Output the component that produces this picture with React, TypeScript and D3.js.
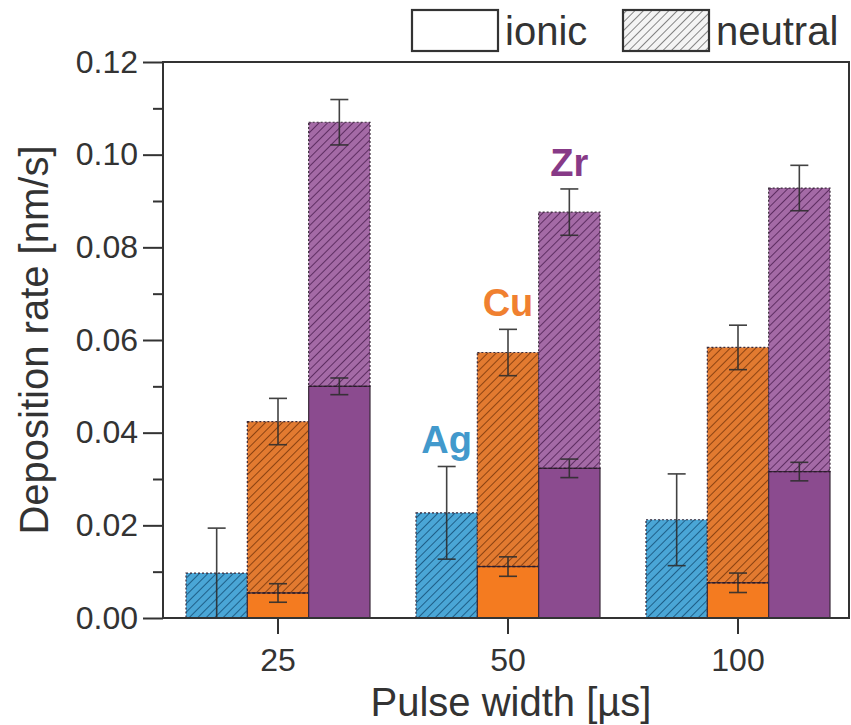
import React, { Component } from "react";
import * as d3 from "d3";

// pulse widths (x categories) and targets (sub-bars)
const pulseWidths = ["25", "50", "100"];
const elements = ["Ag", "Cu", "Zr"];

// deposition rate [nm/s], one value per pulse width
const totalRate = {
  Ag: [0.0097, 0.0227, 0.0212],
  Cu: [0.0424, 0.0573, 0.0584],
  Zr: [0.107, 0.0876, 0.0928],
};
const totalErr = {
  Ag: [0.0097, 0.01, 0.0099],
  Cu: [0.005, 0.005, 0.0048],
  Zr: [0.0049, 0.005, 0.0049],
};
const ionicRate = {
  Ag: [0, 0, 0],
  Cu: [0.0054, 0.0111, 0.0076],
  Zr: [0.05, 0.0323, 0.0316],
};
const ionicErr = {
  Ag: [0, 0, 0],
  Cu: [0.002, 0.0021, 0.0021],
  Zr: [0.0018, 0.002, 0.002],
};

const yMajorTicks = [0, 0.02, 0.04, 0.06, 0.08, 0.1, 0.12];
const yMinorTicks = [0.01, 0.03, 0.05, 0.07, 0.09, 0.11];
const legendItems = ["ionic", "neutral"];

const solidColor = { Ag: "#3d9dd0", Cu: "#f47b20", Zr: "#8b4b8f" };
const hatchBg = { Ag: "#4aa6d6", Cu: "#e27a30", Zr: "#a46aa6" };
const hatchLine = { Ag: "#1f5f88", Cu: "#8c4312", Zr: "#5e2e62" };
const labelColor = { Ag: "#4299cc", Cu: "#f08030", Zr: "#873a87" };

const FONT = "'Liberation Sans', Arial, Helvetica, sans-serif";

class App extends Component {
  constructor(props) {
    super(props);
    this.svgRef = React.createRef();
  }

  drawChart = () => {
    const svg = d3.select(this.svgRef.current);
    svg.selectAll("*").remove();

    const dims = {
      width: 851,
      height: 725,
      margin: { top: 62, right: 2, bottom: 107, left: 163 },
    };
    const plotBottom = dims.height - dims.margin.bottom; // 618
    const plotRight = dims.width - dims.margin.right; // 849

    const defs = svg.append("defs");
    elements.forEach((el) => {
      const p = defs
        .append("pattern")
        .attr("id", "hatch-" + el)
        .attr("patternUnits", "userSpaceOnUse")
        .attr("width", 6)
        .attr("height", 6)
        .attr("patternTransform", "rotate(45)");
      p.append("rect").attr("width", 6).attr("height", 6).attr("fill", hatchBg[el]);
      p.append("line")
        .attr("x1", 0).attr("y1", 0).attr("x2", 0).attr("y2", 6)
        .attr("stroke", hatchLine[el])
        .attr("stroke-width", 2);
    });
    const lp = defs
      .append("pattern")
      .attr("id", "hatch-legend")
      .attr("patternUnits", "userSpaceOnUse")
      .attr("width", 6)
      .attr("height", 6)
      .attr("patternTransform", "rotate(45)");
    lp.append("rect").attr("width", 6).attr("height", 6).attr("fill", "#f4f4f4");
    lp.append("line")
      .attr("x1", 0).attr("y1", 0).attr("x2", 0).attr("y2", 6)
      .attr("stroke", "#555")
      .attr("stroke-width", 1.4);

    /** scales */
    const xScale = d3
      .scaleBand()
      .domain(pulseWidths)
      .range([dims.margin.left, dims.margin.left + 690])
      .paddingInner(0.2)
      .paddingOuter(0.1);
    const subScale = d3.scaleBand().domain(elements).range([0, xScale.bandwidth()]);
    const yScale = d3.scaleLinear().domain([0, 0.12]).range([plotBottom, dims.margin.top]);

    /** bars */
    const barsGroup = svg.append("g").attr("class", "bars");
    const errGroup = svg.append("g").attr("class", "errors");
    const drawErr = (cx, v, e) => {
      if (e <= 0) return;
      const lo = Math.max(0, v - e);
      const hi = v + e;
      const g = errGroup.append("g").attr("stroke", "#2e2e2e").attr("stroke-width", 1.6).attr("opacity", 0.9);
      g.append("line").attr("x1", cx).attr("x2", cx).attr("y1", yScale(lo)).attr("y2", yScale(hi));
      g.append("line").attr("x1", cx - 9).attr("x2", cx + 9).attr("y1", yScale(hi)).attr("y2", yScale(hi));
      g.append("line").attr("x1", cx - 9).attr("x2", cx + 9).attr("y1", yScale(lo)).attr("y2", yScale(lo));
    };

    pulseWidths.forEach((pw, i) => {
      elements.forEach((el) => {
        const x0 = xScale(pw) + subScale(el);
        const w = subScale.bandwidth();
        const cx = x0 + w / 2;
        const ion = ionicRate[el][i];
        const tot = totalRate[el][i];

        // neutral (hatched) part on top of ionic
        barsGroup
          .append("rect")
          .attr("x", x0)
          .attr("width", w)
          .attr("y", yScale(tot))
          .attr("height", yScale(ion) - yScale(tot))
          .attr("fill", `url(#hatch-${el})`)
          .attr("stroke", "#3a2a3a")
          .attr("stroke-width", 1.2)
          .attr("stroke-dasharray", "2,2");

        if (ion > 0) {
          barsGroup
            .append("rect")
            .attr("x", x0)
            .attr("width", w)
            .attr("y", yScale(ion))
            .attr("height", yScale(0) - yScale(ion))
            .attr("fill", solidColor[el])
            .attr("stroke", "#3a2a3a")
            .attr("stroke-width", 1.2);
          // dashed divider
          barsGroup
            .append("line")
            .attr("x1", x0).attr("x2", x0 + w)
            .attr("y1", yScale(ion)).attr("y2", yScale(ion))
            .attr("stroke", "#2a1a2a")
            .attr("stroke-width", 1.4)
            .attr("stroke-dasharray", "3,2");
        }

        drawErr(cx, tot, totalErr[el][i]);
        drawErr(cx, ion, ionicErr[el][i]);
      });
    });

    /** element labels over the 50 µs group */
    const labelIdx = pulseWidths.indexOf("50");
    elements.forEach((el) => {
      const cx = xScale("50") + subScale(el) + subScale.bandwidth() / 2;
      svg
        .append("text")
        .attr("x", cx)
        .attr("y", yScale(totalRate[el][labelIdx] + totalErr[el][labelIdx]) - 13)
        .attr("text-anchor", "middle")
        .attr("font-family", FONT)
        .attr("font-weight", "bold")
        .attr("font-size", 38)
        .attr("fill", labelColor[el])
        .text(el);
    });

    /** frame */
    svg
      .append("rect")
      .attr("x", dims.margin.left)
      .attr("y", dims.margin.top)
      .attr("width", plotRight - dims.margin.left)
      .attr("height", plotBottom - dims.margin.top)
      .attr("fill", "none")
      .attr("stroke", "#333")
      .attr("stroke-width", 2);

    /** y axis */
    svg
      .append("g")
      .attr("transform", `translate(${dims.margin.left},0)`)
      .call(d3.axisLeft(yScale).tickValues(yMinorTicks).tickSize(10).tickFormat(() => ""))
      .call((g) => g.select(".domain").remove())
      .call((g) => g.selectAll("line").attr("stroke", "#333").attr("stroke-width", 2));
    svg
      .append("g")
      .attr("transform", `translate(${dims.margin.left},0)`)
      .call(d3.axisLeft(yScale).tickValues(yMajorTicks).tickSize(20).tickPadding(5).tickFormat(d3.format(".2f")))
      .call((g) => g.select(".domain").remove())
      .call((g) => g.selectAll("line").attr("stroke", "#333").attr("stroke-width", 2))
      .call((g) =>
        g.selectAll("text").attr("font-family", FONT).attr("font-size", 32).attr("fill", "#333")
      );

    /** x axis */
    svg
      .append("g")
      .attr("transform", `translate(0,${plotBottom})`)
      .call(d3.axisBottom(xScale).tickSize(16).tickSizeOuter(0).tickPadding(14))
      .call((g) => g.select(".domain").remove())
      .call((g) => g.selectAll("line").attr("stroke", "#333").attr("stroke-width", 2))
      .call((g) =>
        g.selectAll("text").attr("font-family", FONT).attr("font-size", 32).attr("fill", "#333")
      );

    /** axis titles */
    svg
      .append("text")
      .attr("x", (dims.margin.left + plotRight) / 2 + 5)
      .attr("y", 716)
      .attr("text-anchor", "middle")
      .attr("font-family", FONT)
      .attr("font-size", 40)
      .attr("fill", "#333")
      .text("Pulse width [µs]");
    svg
      .append("text")
      .attr("transform", `translate(48,${(dims.margin.top + plotBottom) / 2}) rotate(-90)`)
      .attr("text-anchor", "middle")
      .attr("font-family", FONT)
      .attr("font-size", 40)
      .attr("fill", "#333")
      .text("Deposition rate [nm/s]");

    /** legend */
    const legendX = [412, 623];
    legendItems.forEach((item, i) => {
      svg
        .append("rect")
        .attr("x", legendX[i])
        .attr("y", 10)
        .attr("width", 86)
        .attr("height", 41)
        .attr("fill", i === 0 ? "#fff" : "url(#hatch-legend)")
        .attr("stroke", "#333")
        .attr("stroke-width", 2.2);
      svg
        .append("text")
        .attr("x", legendX[i] + 93)
        .attr("y", 45)
        .attr("font-family", FONT)
        .attr("font-size", 40)
        .attr("fill", "#333")
        .text(item);
    });
  };

  componentDidMount() {
    this.drawChart();
  }

  render() {
    return (
      <div style={{ position: "absolute", left: 0, top: 0, background: "#fff" }}>
        <svg ref={this.svgRef} width={851} height={725} style={{ display: "block" }} />
      </div>
    );
  }
}

export default App;
